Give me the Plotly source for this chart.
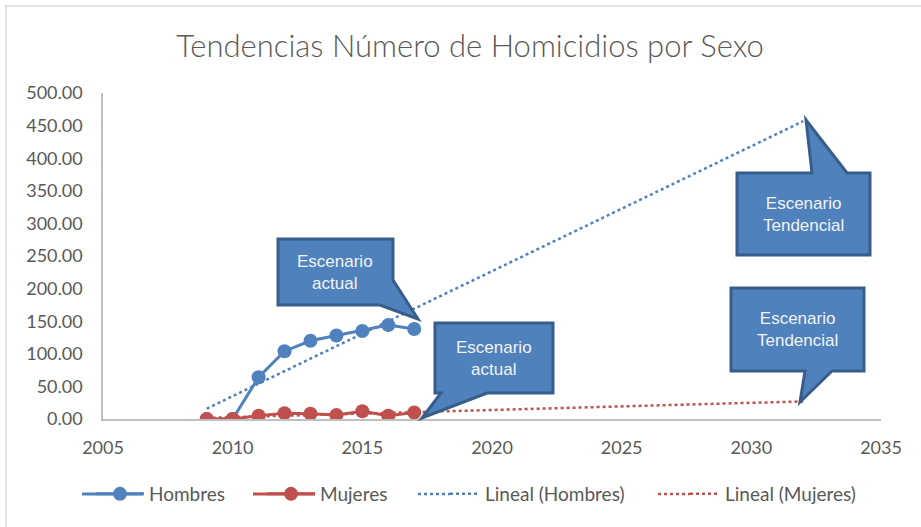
import numpy as np
import plotly.graph_objects as go

# Homicide counts by year and sex
years = [2009, 2010, 2011, 2012, 2013, 2014, 2015, 2016, 2017]
hombres = [0, 0, 64, 104, 120, 128, 135, 144, 138]
mujeres = [0, 0, 5, 9, 8, 6, 12, 5, 10]
forecast_end = 2032

x_ticks = [2005, 2010, 2015, 2020, 2025, 2030, 2035]
y_ticks = [0, 50, 100, 150, 200, 250, 300, 350, 400, 450, 500]

BLUE = "#4F81BD"
RED = "#C0504D"
BOX_FILL = "#4F81BD"
BOX_LINE = "#385D8A"
GREY_TXT = "#595959"
FONT = "Lato, Calibri, sans-serif"

W, H = 921, 527
L, R, T, B = 103, 40, 93, 108
PW, PH = W - L - R, H - T - B


def px(x):
    return (x - L) / PW


def py(y):
    return (H - B - y) / PH


def trend(vals):
    slope, icpt = np.polyfit(years, vals, 1)
    xs = [years[0], forecast_end]
    return xs, [slope * v + icpt for v in xs]


fig = go.Figure()

fig.add_trace(go.Scatter(
    x=years, y=hombres, name="Hombres", mode="lines+markers",
    line=dict(color=BLUE, width=3), marker=dict(color=BLUE, size=14),
    legend="legend", showlegend=True))
fig.add_trace(go.Scatter(
    x=years, y=mujeres, name="Mujeres", mode="lines+markers",
    line=dict(color=RED, width=3), marker=dict(color=RED, size=14),
    legend="legend2", showlegend=True))
tx, ty = trend(hombres)
fig.add_trace(go.Scatter(
    x=tx, y=ty, name="Lineal (Hombres)", mode="lines",
    line=dict(color=BLUE, width=2.5, dash="dot"), legend="legend3",
    showlegend=True))
tx, ty = trend(mujeres)
fig.add_trace(go.Scatter(
    x=tx, y=ty, name="Lineal (Mujeres)", mode="lines",
    line=dict(color=RED, width=2.5, dash="dot"), legend="legend4",
    showlegend=True))

# speech-bubble callouts, outlined in pixel space
callouts = [
    ([(278, 239), (393, 239), (393, 280), (418, 319), (380, 305), (278, 305)],
     (335, 272), "Escenario<br>actual"),
    ([(435, 323), (553, 323), (553, 393), (487, 393), (422, 418), (441, 393), (435, 393)],
     (494, 358), "Escenario<br>actual"),
    ([(737, 173), (812, 173), (806, 120), (847, 173), (870, 173), (870, 255), (737, 255)],
     (803, 214), "Escenario<br>Tendencial"),
    ([(731, 288), (864, 288), (864, 371), (832, 371), (800, 402), (805, 371), (731, 371)],
     (797, 329), "Escenario<br>Tendencial"),
]

shapes = []
annotations = []
for pts, (cx, cy), label in callouts:
    path = "M " + " L ".join(f"{px(a):.5f},{py(b):.5f}" for a, b in pts) + " Z"
    shapes.append(dict(type="path", path=path, xref="paper", yref="paper",
                       fillcolor=BOX_FILL, line=dict(color=BOX_LINE, width=3),
                       layer="above"))
    annotations.append(dict(x=px(cx), y=py(cy), xref="paper", yref="paper",
                            xanchor="center", yanchor="middle",
                            text=label, showarrow=False,
                            font=dict(family="Liberation Sans, Arial", size=17,
                                      color="#F2F2F2")))

# outer chart frame
shapes.append(dict(type="rect", xref="paper", yref="paper",
                   x0=px(6), y0=py(530), x1=px(925), y1=py(6),
                   line=dict(color="#D9D9D9", width=1.5), layer="below"))

# longer legend sample strokes
LEG_Y = 494
legend_strokes = [
    (82, 143, BLUE, "solid", 3),
    (253, 315, RED, "solid", 3),
    (418, 450, BLUE, "dot", 2.5),
    (658, 690, RED, "dot", 2.5),
]
for x0, x1, col, dash, w in legend_strokes:
    shapes.append(dict(type="line", xref="paper", yref="paper",
                       x0=px(x0), x1=px(x1), y0=py(LEG_Y), y1=py(LEG_Y),
                       line=dict(color=col, width=w, dash=dash), layer="below"))

legend_font = dict(family=FONT, size=19, color=GREY_TXT)
leg_common = dict(orientation="h", yanchor="middle", y=py(LEG_Y), xanchor="left",
                  font=legend_font, bgcolor="rgba(0,0,0,0)", borderwidth=0)

fig.update_layout(
    width=W, height=H,
    margin=dict(l=L, r=R, t=T, b=B),
    paper_bgcolor="white", plot_bgcolor="white",
    showlegend=True,
    title=dict(text="Tendencias Número de Homicidios por Sexo",
               xref="container", x=470 / W, xanchor="center",
               y=1 - 46 / H, yanchor="middle",
               font=dict(family="Lato Light, Lato, Calibri, sans-serif", size=31,
                         color=GREY_TXT, weight=300)),
    xaxis=dict(range=[2005, 2035], tickvals=x_ticks, showgrid=False,
               zeroline=False, showline=True, linecolor="#BFBFBF", linewidth=1.5,
               ticks="", ticklabelstandoff=12,
               tickfont=dict(family=FONT, size=18, color=GREY_TXT)),
    yaxis=dict(range=[0, 500], tickvals=y_ticks, tickformat=".2f", showgrid=False,
               zeroline=False, showline=True, linecolor="#BFBFBF", linewidth=1.5,
               ticks="", ticklabelstandoff=15,
               tickfont=dict(family=FONT, size=18, color=GREY_TXT)),
    legend=dict(x=px(91), itemwidth=48, **leg_common),
    legend2=dict(x=px(262), itemwidth=48, **leg_common),
    legend3=dict(x=px(445), itemwidth=30, **leg_common),
    legend4=dict(x=px(685), itemwidth=30, **leg_common),
    shapes=shapes,
    annotations=annotations,
)

fig.write_html("out.html")
